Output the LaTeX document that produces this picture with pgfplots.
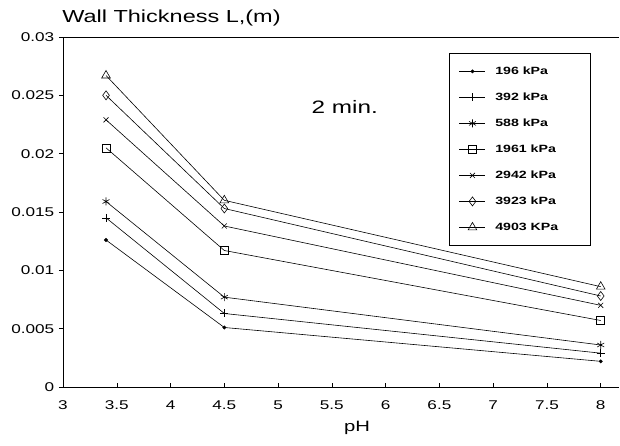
\documentclass[border=0pt]{standalone}
\usepackage{fontspec}
\setmainfont{Liberation Sans}
\usepackage{pgfplots}
\pgfplotsset{compat=1.18}
\newcommand{\LE}[1]{\makebox[82pt][l]{\scalebox{1.35}[1]{#1}}}
\begin{document}
\begin{tikzpicture}
\useasboundingbox (0pt,0pt) rectangle (620pt,446pt);
\begin{axis}[
  at={(63pt,59pt)}, anchor=south west,
  scale only axis, width=556pt, height=350pt,
  xmin=3, xmax=8.17, ymin=0, ymax=0.03,
  scaled y ticks=false, scaled x ticks=false,
  axis lines*=left, axis line style={-, line width=0.6pt},
  xtick={3,3.5,4,4.5,5,5.5,6,6.5,7,7.5,8},
  xticklabels={3,3.5,4,4.5,5,5.5,6,6.5,7,7.5,8},
  ytick={0,0.005,0.01,0.015,0.02,0.025,0.03},
  yticklabels={0,0.005,0.01,0.015,0.02,0.025,0.03},
  xtick align=inside, ytick align=outside,
  major tick length=4pt,
  tick style={black, line width=0.5pt},
  tick label style={font=\fontsize{12.7}{14}\selectfont, xscale=1.35},
  xticklabel style={yshift=-10.5pt},
  every axis plot/.append style={black, line width=0.6pt, mark options={solid}},
  legend image code/.code={\draw[mark repeat=2,mark phase=2] plot coordinates {(0pt,0pt) (13pt,0pt) (26pt,0pt)};},
  legend cell align=left,
  legend style={at={(0.694,0.954)}, anchor=north west, draw=black, line width=0.6pt,
    inner xsep=10pt, inner ysep=10pt, row sep=10pt, column sep=6.5pt,
    font=\bfseries\fontsize{10.5}{12}\selectfont,
    nodes={inner sep=3pt, text height=8pt, text depth=2pt}},
]
\addplot[mark=*, mark size=1.6pt] coordinates {(3.4,0.0126) (4.5,0.0051) (8,0.0022)};
\addlegendentry{\LE{196 kPa}}
\addplot[mark=+, mark size=4pt] coordinates {(3.4,0.0145) (4.5,0.0063) (8,0.0029)};
\addlegendentry{\LE{392 kPa}}
\addplot[mark=asterisk, mark size=4pt] coordinates {(3.4,0.0159) (4.5,0.0077) (8,0.0036)};
\addlegendentry{\LE{588 kPa}}
\addplot[mark=square, mark size=4pt] coordinates {(3.4,0.0205) (4.5,0.0117) (8,0.0057)};
\addlegendentry{\LE{1961 kPa}}
\addplot[mark=x, mark size=3.5pt] coordinates {(3.4,0.0229) (4.5,0.0138) (8,0.0070)};
\addlegendentry{\LE{2942 kPa}}
\addplot[mark=diamond, mark size=4.5pt] coordinates {(3.4,0.0250) (4.5,0.0153) (8,0.0078)};
\addlegendentry{\LE{3923 kPa}}
\addplot[mark=triangle, mark size=5pt] coordinates {(3.4,0.0267) (4.5,0.0160) (8,0.0086)};
\addlegendentry{\LE{4903 KPa}}
\draw[line width=0.6pt] (rel axis cs:0,1) -- (rel axis cs:1,1);
\node[font=\fontsize{18}{20}\selectfont, xscale=1.35] at (axis cs:5.62,0.0240) {2 min.};
\end{axis}
\node[anchor=west, font=\fontsize{17.4}{19}\selectfont, inner sep=0pt, xscale=1.35] at (62pt,428pt) {Wall Thickness L,(m)};
\node[font=\fontsize{15}{17}\selectfont, xscale=1.35] at (357pt,18pt) {pH};
\end{tikzpicture}
\end{document}
